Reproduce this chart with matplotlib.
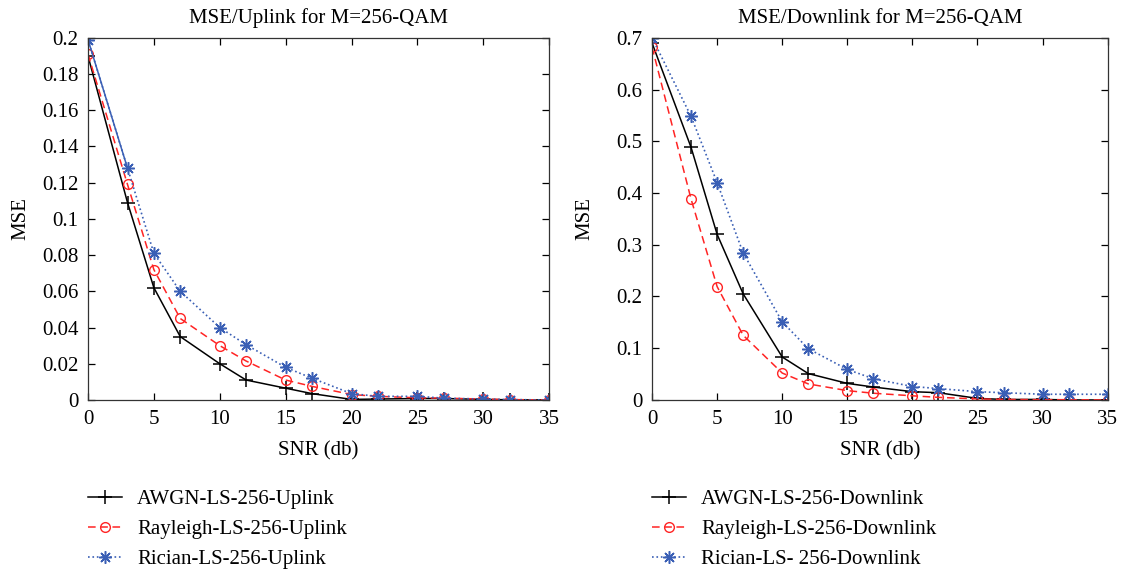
import matplotlib
matplotlib.use("Agg")
import matplotlib.pyplot as plt
from matplotlib.ticker import FuncFormatter

plt.rcParams['font.family'] = ['Liberation Serif', 'DejaVu Serif']

snr = [0, 3, 5, 7, 10, 12, 15, 17, 20, 22, 25, 27, 30, 32, 35]

# uplink values
up_awgn = [0.190, 0.109, 0.062, 0.035, 0.020, 0.011, 0.0065, 0.0035, 0.0003, 0.0005, 0.0008, 0.0008, 0.0003, 0.0001, 0.0]
up_rayleigh = [0.191, 0.119, 0.072, 0.045, 0.030, 0.0215, 0.011, 0.0075, 0.003, 0.002, 0.0012, 0.001, 0.0005, 0.0002, 0.0]
up_rician = [0.199, 0.128, 0.081, 0.060, 0.040, 0.0305, 0.018, 0.012, 0.0035, 0.002, 0.002, 0.001, 0.0005, 0.0002, 0.0]

# downlink values
dn_awgn = [0.690, 0.488, 0.320, 0.205, 0.083, 0.051, 0.032, 0.025, 0.016, 0.014, 0.003, 0.001, 0.001, 0.0, 0.0]
dn_rayleigh = [0.682, 0.388, 0.219, 0.125, 0.052, 0.031, 0.018, 0.013, 0.008, 0.005, 0.002, 0.001, 0.0005, 0.0005, 0.0]
dn_rician = [0.700, 0.548, 0.420, 0.284, 0.151, 0.099, 0.059, 0.041, 0.026, 0.022, 0.016, 0.014, 0.011, 0.011, 0.011]

up_labels = ["AWGN-LS-256-Uplink", "Rayleigh-LS-256-Uplink", "Rician-LS-256-Uplink"]
dn_labels = ["AWGN-LS-256-Downlink", "Rayleigh-LS-256-Downlink", "Rician-LS- 256-Downlink"]

BLUE = "#3a5fb5"
RED = "#ff2424"
FS = 15

fig = plt.figure(figsize=(11.25, 5.73), dpi=100)
ax1 = fig.add_axes([0.0782, 0.302, 0.410, 0.632])
ax2 = fig.add_axes([0.5796, 0.302, 0.405, 0.632])


def draw(ax, awgn, ray, ric, labels, ymax, ystep, title, ylpad):
    ax.plot(snr, awgn, '-', color='black', lw=1.1, marker='+', ms=10, mew=1.1, label=labels[0])
    ax.plot(snr, ray, '--', color=RED, lw=1.1, marker='o', ms=7, mfc='none', mew=1.0,
            dashes=(5, 3), label=labels[1])
    ax.plot(snr, ric, ':', color=BLUE, lw=1.2, marker=(8, 2, 0), ms=9, mew=1.1, label=labels[2])
    ax.set_xlim(0, 35)
    ax.set_ylim(0, ymax)
    ax.set_xticks(range(0, 36, 5))
    n = int(round(ymax / ystep))
    ax.set_yticks([i * ystep for i in range(n + 1)])
    ax.yaxis.set_major_formatter(FuncFormatter(lambda v, p: "%g" % round(v, 4)))
    ax.tick_params(direction='in', top=True, right=True, labelsize=FS, length=5, width=0.9, pad=7)
    for s in ax.spines.values():
        s.set_linewidth(0.9)
        s.set_color('#333333')
    ax.set_title(title, fontsize=FS, pad=11)
    ax.set_xlabel("SNR (db)", fontsize=FS, labelpad=9)
    ax.set_ylabel("MSE", fontsize=FS, labelpad=ylpad)
    ax.legend(loc='upper left', bbox_to_anchor=(0.0, -0.247), frameon=False, fontsize=FS,
              borderpad=0, borderaxespad=0, handlelength=1.63, handletextpad=0.72,
              labelspacing=0.5)


draw(ax1, up_awgn, up_rayleigh, up_rician, up_labels, 0.2, 0.02, "MSE/Uplink for M=256-QAM", 8)
# first segment of the uplink Rician curve is drawn solid in the original
ax1.plot(snr[:2], up_rician[:2], '-', color=BLUE, lw=1.1)
draw(ax2, dn_awgn, dn_rayleigh, dn_rician, dn_labels, 0.7, 0.1, "MSE/Downlink for M=256-QAM", 16)

fig.savefig("out.png", dpi=100)
